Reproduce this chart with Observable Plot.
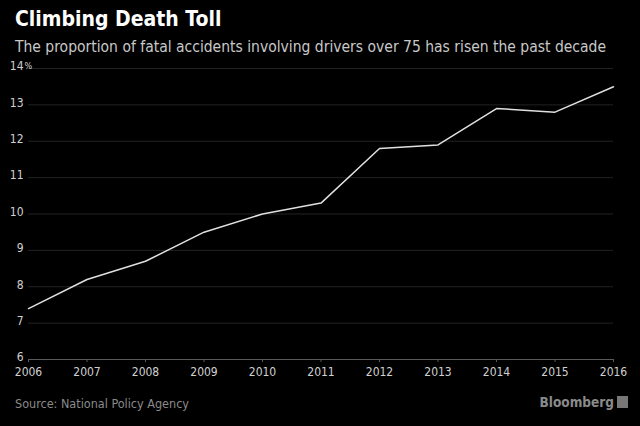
<!DOCTYPE html>
<html>
<head>
<meta charset="utf-8">
<script src="https://cdn.jsdelivr.net/npm/d3@7"></script>
<script src="https://cdn.jsdelivr.net/npm/@observablehq/plot@0.6"></script>
<style>
  html, body { margin: 0; padding: 0; background: #000; width: 640px; height: 426px; overflow: hidden; }
  body { position: relative; font-family: "DejaVu Sans", sans-serif; font-stretch: condensed; }
  #title { position: absolute; left: 15px; top: 7px; color: #fff; font-size: 21px; font-weight: bold; white-space: nowrap; }
  #subtitle { position: absolute; left: 15px; top: 38px; color: #c8c8c8; font-size: 15.5px; white-space: nowrap; }
  #chart { position: absolute; left: 0; top: 58px; }
  #source { position: absolute; left: 15px; top: 396px; color: #8a8a8a; font-size: 12.5px; white-space: nowrap; }
  #brand { position: absolute; right: 12px; top: 394px; color: #8a8a8a; font-size: 13.5px; font-weight: bold; white-space: nowrap; }
  #brand span { display: inline-block; width: 11px; height: 12px; background: #777; vertical-align: -1px; margin-left: 3px; }
  svg text { font-stretch: condensed; }
</style>
</head>
<body>
<div id="title">Climbing Death Toll</div>
<div id="subtitle">The proportion of fatal accidents involving drivers over 75 has risen the past decade</div>
<div id="chart"></div>
<div id="source">Source: National Policy Agency</div>
<div id="brand">Bloomberg<span></span></div>
<script>
const years = [2006, 2007, 2008, 2009, 2010, 2011, 2012, 2013, 2014, 2015, 2016];
const shares = [7.4, 8.2, 8.7, 9.5, 10.0, 10.3, 11.8, 11.9, 12.9, 12.8, 13.5];
const yTicks = [6, 7, 8, 9, 10, 11, 12, 13, 14];

const data = years.map((year, i) => ({year, share: shares[i]}));

const chart = Plot.plot({
  width: 640,
  height: 330,
  marginTop: 10,
  marginBottom: 29,
  marginLeft: 28,
  marginRight: 27,
  style: {background: "#000", fontFamily: "\"DejaVu Sans\", sans-serif", fontSize: "12px"},
  x: {domain: [2006, 2016]},
  y: {domain: [6, 14]},
  marks: [
    Plot.gridY(yTicks.filter(d => d !== 6), {stroke: "#222", strokeOpacity: 1, strokeWidth: 1}),
    Plot.ruleY([6], {stroke: "#5a5a5a"}),
    Plot.axisY(yTicks, {tickSize: 0, tickPadding: 5, dy: -2, textAnchor: "end", fill: "#d0d0d0", tickFormat: d => String(d), label: null, fontSize: 12}),
    Plot.text([14], {y: d => d, text: () => "%", frameAnchor: "left", dx: -4, dy: -2, textAnchor: "start", fill: "#d0d0d0", fontSize: 9}),
    Plot.axisX(years, {tickSize: 3, tickPadding: 5, stroke: "#5a5a5a", fill: "#d0d0d0", tickFormat: d => String(d), label: null, fontSize: 12}),
    Plot.line(data, {x: "year", y: "share", stroke: "#e0e0e0", strokeWidth: 1.5})
  ]
});
document.getElementById("chart").appendChild(chart);
</script>
</body>
</html>
